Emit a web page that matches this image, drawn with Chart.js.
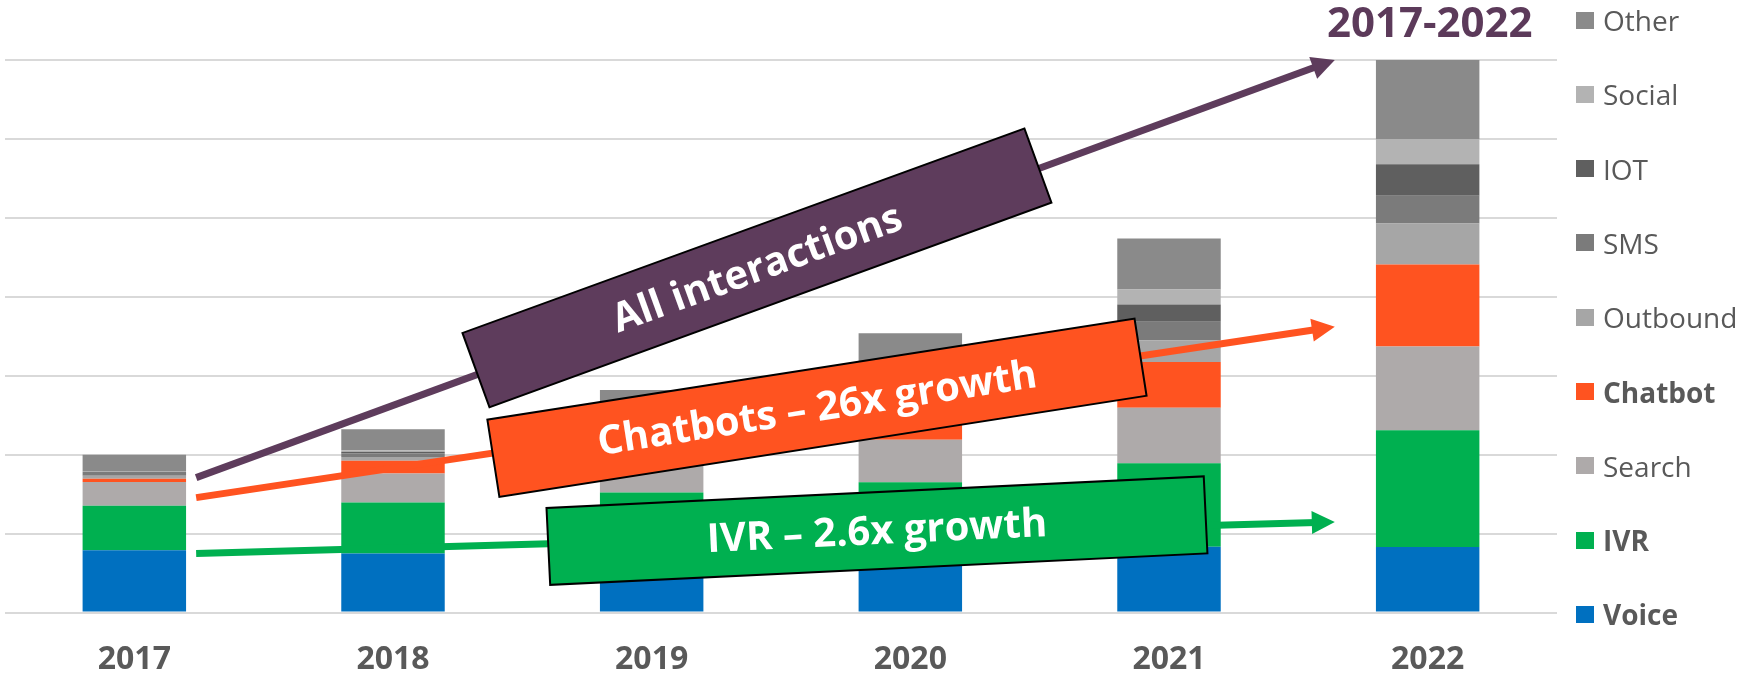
<!DOCTYPE html>
<html>
<head>
<meta charset="utf-8">
<title>Interactions 2017-2022</title>
<script src="https://cdn.jsdelivr.net/npm/chart.js@4.4.0/dist/chart.umd.min.js"></script>
<style>
  html, body { margin: 0; padding: 0; background: #fff; overflow: hidden; }
  #wrap { position: relative; width: 1748px; height: 681px; overflow: hidden; font-family: 'Open Sans', sans-serif; }
  #chart { position: absolute; left: 0; top: 0; }
  #title { position: absolute; left: 1327px; top: 0; font-size: 42px; line-height: 42px; font-weight: 700; color: #5C3A5A; white-space: nowrap; }
  #legend { position: absolute; left: 1576px; top: 0; }
  .item { position: absolute; left: 0; height: 28px; line-height: 28px; display: flex; align-items: center; white-space: nowrap; font-size: 28px; color: #595959; }
  .sw { width: 18px; height: 17px; margin-right: 9px; flex: none; }
</style>
<script>
  // values (one gridline = 1 unit)
  var years    = ['2017', '2018', '2019', '2020', '2021', '2022'];
  var voice    = [0.79, 0.75, 0.78, 0.80, 0.835, 0.83];
  var ivr      = [0.565, 0.645, 0.74, 0.85, 1.056, 1.48];
  var search   = [0.30, 0.367, 0.45, 0.54, 0.704, 1.06];
  var chatbot  = [0.04, 0.16, 0.32, 0.50, 0.578, 1.04];
  var outbound = [0.04, 0.05, 0.10, 0.17, 0.278, 0.52];
  var sms      = [0.045, 0.045, 0.10, 0.12, 0.232, 0.35];
  var iot      = [0.005, 0.02, 0.05, 0.08, 0.22, 0.40];
  var social   = [0.005, 0.018, 0.04, 0.06, 0.19, 0.32];
  var other    = [0.21, 0.266, 0.24, 0.42, 0.646, 1.00];

  var seriesNames  = ['Voice', 'IVR', 'Search', 'Chatbot', 'Outbound', 'SMS', 'IOT', 'Social', 'Other'];
  var seriesData   = [voice, ivr, search, chatbot, outbound, sms, iot, social, other];
  var seriesColors = ['#0070C0', '#00B050', '#AEAAAA', '#FF5320', '#A6A6A6', '#7B7B7B', '#5F5F5F', '#B3B3B3', '#8A8A8A'];
  var boldNames    = ['Voice', 'IVR', 'Chatbot'];

  // overlay arrows and labels, in chart coordinates (category index, value)
  var arrows = [
    { x0: 0.239, y0: 1.71,  x1: 4.641, y1: 7.0,   color: '#5E3C5C' },
    { x0: 0.239, y0: 1.456, x1: 4.641, y1: 3.62,  color: '#FF5320' },
    { x0: 0.239, y0: 0.75,  x1: 4.641, y1: 1.148, color: '#00B050' }
  ];
  var notes = [
    { text: 'All interactions',      x: 2.407, y: 4.367, w: 598, h: 79, angle: -20,   fill: '#5E3C5C', size: 40 },
    { text: 'Chatbots – 26x growth', x: 2.639, y: 2.595, w: 655, h: 78, angle: -8.87, fill: '#FF5320', size: 40 },
    { text: 'IVR – 2.6x growth',     x: 2.871, y: 1.038, w: 658, h: 77, angle: -2.75, fill: '#00B050', size: 40 }
  ];

  function catPixel(scale, v) {
    var a = scale.getPixelForValue(0), b = scale.getPixelForValue(1);
    return a + v * (b - a);
  }

  var overlay = {
    id: 'overlay',
    afterDatasetsDraw: function(chart) {
      var ctx = chart.ctx, xs = chart.scales.x, ys = chart.scales.y;
      ctx.save();
      arrows.forEach(function(a) {
        var x0 = catPixel(xs, a.x0), y0 = ys.getPixelForValue(a.y0);
        var x1 = catPixel(xs, a.x1), y1 = ys.getPixelForValue(a.y1);
        var len = Math.hypot(x1 - x0, y1 - y0), ux = (x1 - x0) / len, uy = (y1 - y0) / len;
        var head = 23, half = 11.5;
        ctx.strokeStyle = a.color;
        ctx.fillStyle = a.color;
        ctx.lineWidth = 7;
        ctx.lineCap = 'butt';
        ctx.beginPath();
        ctx.moveTo(x0, y0);
        ctx.lineTo(x1 - ux * head * 0.8, y1 - uy * head * 0.8);
        ctx.stroke();
        var bx = x1 - ux * head, by = y1 - uy * head;
        ctx.beginPath();
        ctx.moveTo(x1, y1);
        ctx.lineTo(bx - uy * half, by + ux * half);
        ctx.lineTo(bx + uy * half, by - ux * half);
        ctx.closePath();
        ctx.fill();
      });
      notes.forEach(function(n) {
        var cx = catPixel(xs, n.x), cy = ys.getPixelForValue(n.y);
        ctx.save();
        ctx.translate(cx, cy);
        ctx.rotate(n.angle * Math.PI / 180);
        ctx.fillStyle = n.fill;
        ctx.strokeStyle = '#000';
        ctx.lineWidth = 2;
        ctx.fillRect(-n.w / 2, -n.h / 2, n.w, n.h);
        ctx.strokeRect(-n.w / 2, -n.h / 2, n.w, n.h);
        ctx.fillStyle = '#fff';
        ctx.font = 'bold ' + n.size + 'px "Open Sans"';
        ctx.textAlign = 'center';
        ctx.textBaseline = 'middle';
        ctx.fillText(n.text, 0, 2);
        ctx.restore();
      });
      ctx.restore();
    }
  };

  function buildLegend() {
    var legend = document.getElementById('legend');
    for (var i = seriesNames.length - 1; i >= 0; i--) {
      var row = seriesNames.length - 1 - i;
      var item = document.createElement('div');
      item.className = 'item';
      item.style.top = (20 + row * 74.3 - 14) + 'px';
      if (boldNames.indexOf(seriesNames[i]) >= 0) item.style.fontWeight = '700';
      var sw = document.createElement('span');
      sw.className = 'sw';
      sw.style.background = seriesColors[i];
      var label = document.createElement('span');
      label.textContent = seriesNames[i];
      item.appendChild(sw);
      item.appendChild(label);
      legend.appendChild(item);
    }
  }

  function drawChart() {
    var ctx = document.getElementById('chart').getContext('2d');
    var datasets = seriesNames.map(function(name, i) {
      return {
        label: name,
        data: seriesData[i],
        backgroundColor: seriesColors[i],
        borderWidth: 0,
        categoryPercentage: 1,
        barPercentage: 0.4
      };
    });
    new Chart(ctx, {
      type: 'bar',
      data: { labels: years, datasets: datasets },
      options: {
        responsive: false,
        animation: false,
        layout: { padding: { left: 5, right: 191, top: 60, bottom: 0 } },
        plugins: { legend: { display: false }, tooltip: { enabled: false } },
        scales: {
          x: {
            stacked: true,
            grid: { display: false, drawTicks: false },
            border: { display: false },
            ticks: { color: '#595959', padding: 28, font: { family: 'Open Sans', size: 32, weight: 'bold' } }
          },
          y: {
            stacked: true,
            min: 0,
            max: 7,
            ticks: { display: false, stepSize: 1 },
            grid: { color: '#d9d9d9', lineWidth: 2, drawTicks: false },
            border: { display: false }
          }
        }
      },
      plugins: [overlay]
    });
  }

  window.onload = function() {
    buildLegend();
    drawChart();
  };
</script>
</head>
<body>
  <div id="wrap">
    <canvas id="chart" width="1748" height="707"></canvas>
    <div id="title">2017-2022</div>
    <div id="legend"></div>
  </div>
</body>
</html>
